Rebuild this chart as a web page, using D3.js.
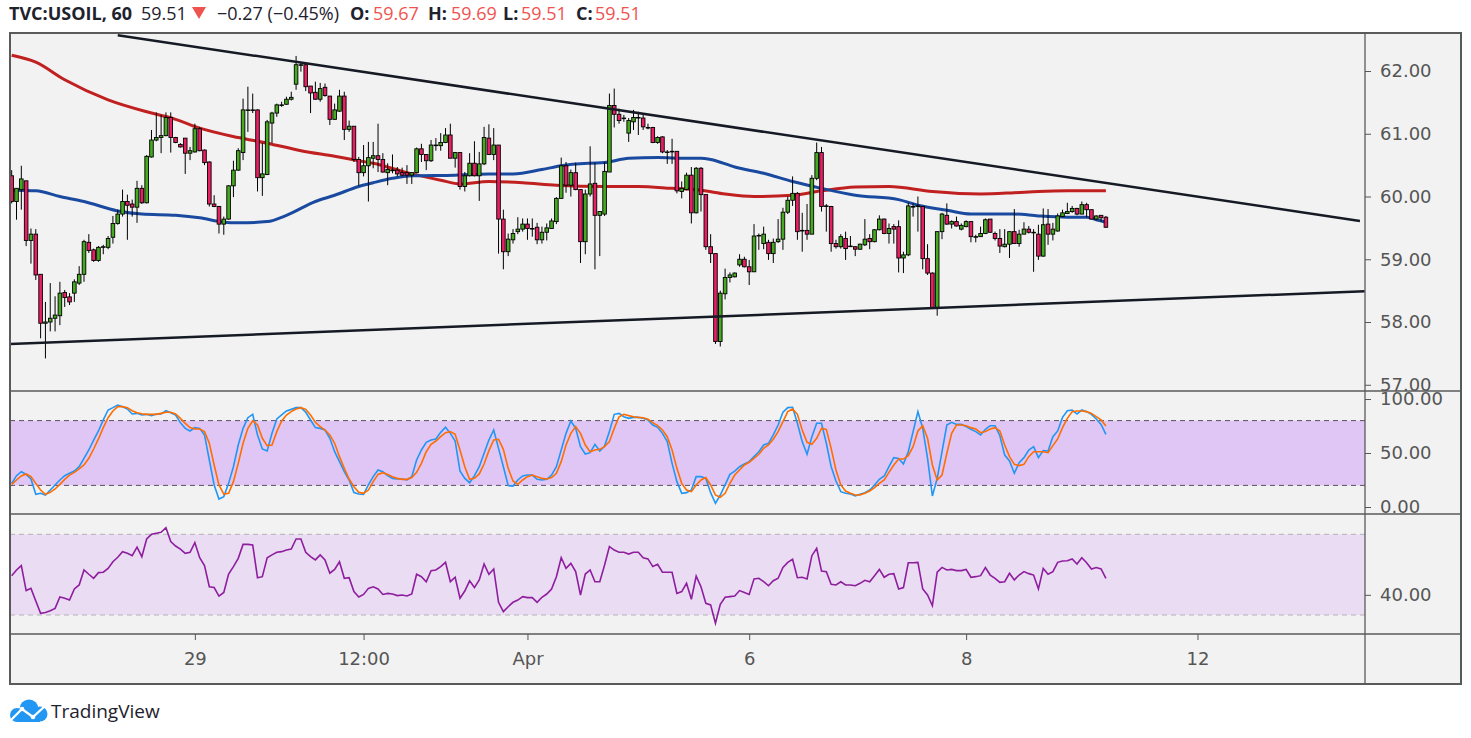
<!DOCTYPE html>
<html>
<head>
<meta charset="utf-8">
<script src="https://cdn.jsdelivr.net/npm/d3@7"></script>
<style>
  html, body { margin: 0; padding: 0; background: #ffffff; }
  svg { display: block; }
</style>
</head>
<body>
<svg id="canvas" width="1471" height="738"></svg>
<script>
//usoil hourly chart: candles, two moving averages, triangle lines, stochastic and rsi panes

//candles, one value per hourly bar
var opens = [
  60.33,59.92,60.11,60.25,59.30,59.40,58.76,57.98,58.00,58.06,
  58.10,58.47,58.40,58.46,58.62,58.76,59.27,59.15,58.98,59.19,
  59.19,59.35,59.57,59.72,59.92,59.88,59.83,60.13,59.90,60.63,
  60.90,60.94,60.97,61.26,60.94,60.83,60.93,60.69,60.71,61.08,
  60.74,60.55,59.88,59.84,59.56,59.64,60.17,60.42,60.70,61.38,
  61.38,61.38,60.30,60.35,61.17,61.33,61.46,61.47,61.55,61.79,
  62.10,62.10,61.76,61.66,61.55,61.74,61.60,61.23,61.36,61.60,
  61.07,61.12,60.59,60.38,60.49,60.61,60.65,60.59,60.38,60.42,
  60.42,60.38,60.38,60.34,60.38,60.76,60.67,60.57,60.82,60.81,
  60.86,60.98,60.61,60.70,60.16,60.33,60.53,60.33,60.52,60.93,
  60.67,60.82,59.64,59.12,59.31,59.44,59.48,59.56,59.49,59.51,
  59.31,59.43,59.49,59.60,59.97,60.49,60.18,60.38,60.11,59.28,
  60.04,60.21,59.70,59.72,60.39,61.45,61.31,61.25,61.01,61.19,
  61.26,61.25,61.10,61.10,60.86,60.95,60.71,60.72,60.72,60.08,
  60.11,60.34,59.74,60.45,60.03,59.20,59.09,57.69,58.45,58.71,
  58.72,58.91,59.00,58.88,58.80,59.38,59.25,59.27,59.09,59.28,
  59.32,59.75,59.94,60.05,59.46,59.46,59.40,60.29,60.70,59.85,
  59.84,59.25,59.20,59.33,59.21,59.20,59.16,59.23,59.33,59.28,
  59.47,59.64,59.41,59.52,59.52,59.02,59.07,59.84,59.85,59.84,
  59.01,58.78,58.23,59.44,59.70,59.56,59.60,59.48,59.52,59.60,
  59.36,59.36,59.41,59.64,59.41,59.33,59.20,59.24,59.44,59.25,
  59.40,59.48,59.43,59.40,59.05,59.56,59.40,59.45,59.68,59.73,
  59.76,59.81,59.72,59.87,59.79,59.64,59.70,59.67];

var highs = [
  60.42,60.13,60.49,60.25,59.49,59.48,58.76,58.32,58.62,58.41,
  58.64,58.51,58.46,58.68,58.89,59.31,59.40,59.17,59.21,59.23,
  59.37,59.69,59.79,60.11,60.03,59.95,60.25,60.18,60.66,61.06,
  61.34,61.30,61.34,61.34,60.95,60.85,60.93,60.79,61.16,61.11,
  60.75,60.56,60.02,59.85,59.68,60.18,60.57,60.77,61.56,61.75,
  61.64,61.39,60.85,61.22,61.35,61.48,61.51,61.59,61.67,62.24,
  62.13,62.12,61.76,61.83,61.81,61.80,61.60,61.48,61.70,61.67,
  61.21,61.12,60.63,60.82,60.87,60.87,61.16,60.69,60.53,60.67,
  60.47,60.46,60.50,60.38,60.78,60.84,60.67,60.90,60.93,61.01,
  61.09,61.16,60.71,60.70,60.39,60.69,60.88,60.71,61.11,61.15,
  61.09,60.82,59.79,59.41,59.48,59.67,59.65,59.65,59.65,59.58,
  59.52,59.57,59.65,59.99,60.62,60.55,60.43,60.54,60.11,60.11,
  60.80,60.54,59.76,60.55,61.64,61.72,61.40,61.30,61.25,61.38,
  61.35,61.30,61.16,61.11,60.96,60.96,60.74,60.92,60.72,60.24,
  60.38,60.47,60.47,60.47,60.03,59.40,59.09,58.50,58.85,58.79,
  58.79,59.08,59.04,58.99,59.56,59.41,59.52,59.31,59.33,59.64,
  59.82,60.00,60.32,60.07,59.74,59.88,60.34,60.86,60.79,59.88,
  59.85,59.31,59.40,59.44,59.37,59.21,59.25,59.64,59.40,59.48,
  59.70,59.65,59.57,59.56,59.62,59.12,59.90,59.89,60.00,59.85,
  59.24,58.79,59.44,59.74,59.89,59.62,59.68,59.57,59.62,59.61,
  59.39,59.52,59.65,59.64,59.44,59.48,59.48,59.44,59.80,59.47,
  59.59,59.53,59.48,59.55,59.81,59.80,59.58,59.73,59.79,59.90,
  59.85,59.82,59.92,59.90,59.79,59.70,59.70,59.69];

var lows = [
  59.89,59.63,59.79,59.21,58.93,58.67,57.74,57.42,57.85,57.85,
  57.95,58.24,58.27,58.32,58.59,58.64,59.10,58.96,58.96,59.08,
  59.16,59.25,59.55,59.68,59.31,59.68,59.58,59.88,59.89,60.62,
  60.88,60.69,60.96,60.70,60.85,60.78,60.36,60.58,60.70,60.72,
  60.50,59.84,59.83,59.41,59.39,59.63,59.99,60.41,60.58,61.03,
  61.33,60.08,60.01,60.34,60.85,61.27,61.43,61.46,61.53,61.70,
  61.99,61.68,61.33,61.54,61.51,61.59,61.14,61.22,61.35,60.90,
  61.03,60.55,60.17,60.32,59.92,60.45,60.39,60.38,60.18,60.37,
  60.32,60.32,60.20,60.20,60.37,60.55,60.42,60.55,60.73,60.73,
  60.85,60.61,60.46,60.11,60.08,60.32,60.32,59.93,60.50,60.66,
  60.58,59.09,58.84,59.05,59.25,59.40,59.44,59.31,59.36,59.24,
  59.25,59.30,59.49,59.56,59.97,60.06,60.00,60.10,58.94,59.08,
  60.00,58.84,59.05,59.69,60.39,61.10,61.16,61.19,60.87,61.06,
  60.98,61.06,61.07,60.85,60.84,60.69,60.52,60.52,60.05,59.97,
  60.10,59.57,59.73,59.76,59.15,58.94,57.65,57.61,58.36,58.63,
  58.71,58.88,58.87,58.59,58.80,59.15,59.16,58.99,58.94,59.26,
  59.15,59.72,59.85,59.31,59.12,59.31,59.40,60.26,59.76,59.44,
  59.12,59.17,59.17,58.99,59.20,59.05,59.15,59.21,59.16,59.27,
  59.46,59.40,59.25,59.25,58.79,58.78,59.05,59.68,59.44,58.84,
  58.75,58.22,58.10,59.32,59.55,59.49,59.52,59.46,59.51,59.27,
  59.27,59.36,59.40,59.42,59.30,59.10,59.19,59.02,59.25,59.20,
  59.40,59.41,58.80,58.99,59.04,59.23,59.30,59.44,59.67,59.72,
  59.74,59.70,59.72,59.67,59.64,59.62,59.60,59.50];

var closes = [
  59.92,60.13,60.28,59.30,59.40,58.75,57.98,58.00,58.06,58.11,
  58.46,58.39,58.32,58.64,58.76,59.28,59.14,58.98,59.19,59.20,
  59.33,59.57,59.72,59.92,59.86,59.83,60.13,59.90,60.64,60.90,
  60.94,60.97,61.26,60.94,60.86,60.79,60.69,60.73,61.08,60.73,
  60.54,59.88,59.84,59.56,59.64,60.17,60.42,60.73,61.38,61.38,
  61.38,60.30,60.36,61.19,61.33,61.46,61.46,61.55,61.58,62.10,
  62.10,61.75,61.65,61.55,61.72,61.61,61.23,61.38,61.60,61.07,
  61.12,60.59,60.38,60.49,60.62,60.65,60.59,60.39,60.43,60.42,
  60.36,60.34,60.34,60.38,60.76,60.67,60.57,60.82,60.82,60.86,
  60.98,60.61,60.70,60.16,60.33,60.53,60.33,60.52,60.94,60.67,
  60.82,59.64,59.12,59.32,59.41,59.48,59.56,59.49,59.49,59.31,
  59.43,59.50,59.61,59.97,60.49,60.18,60.38,60.11,59.28,60.04,
  60.20,59.70,59.76,60.40,61.45,61.31,61.21,61.25,61.21,61.26,
  61.26,61.11,61.10,60.86,60.94,60.71,60.71,60.72,60.09,60.13,
  60.34,59.74,60.45,60.03,59.20,59.09,57.69,58.46,58.71,58.75,
  58.78,59.00,58.88,58.80,59.37,59.38,59.40,59.09,59.27,59.32,
  59.75,59.94,60.05,59.44,59.46,59.40,60.29,60.70,59.84,59.85,
  59.25,59.20,59.36,59.17,59.21,59.16,59.24,59.32,59.28,59.47,
  59.64,59.41,59.49,59.48,59.02,59.07,59.85,59.84,59.85,59.01,
  58.78,58.23,59.44,59.72,59.56,59.60,59.53,59.54,59.60,59.36,
  59.36,59.41,59.63,59.43,59.33,59.21,59.24,59.44,59.25,59.40,
  59.48,59.43,59.43,59.05,59.55,59.40,59.48,59.69,59.74,59.76,
  59.81,59.72,59.87,59.79,59.64,59.69,59.66,59.51];

//moving averages as [bar, price]
var maSlow = [[0,62.25],[5,62.14],[11,61.86],[20,61.54],[29,61.33],[34,61.23],[39,61.09],
  [47,60.94],[53,60.85],[60,60.73],[67,60.64],[72,60.57],[75,60.53],[82,60.38],[89,60.26],
  [93,60.20],[99,60.24],[106,60.22],[113,60.18],[123,60.16],[130,60.16],[137,60.13],
  [143,60.10],[148,60.04],[154,60.00],[162,60.02],[168,60.09],[175,60.15],[182,60.16],
  [191,60.08],[201,60.04],[208,60.06],[213,60.08],[219,60.09],[227,60.09]];

var maFast = [[0,60.10],[5,60.09],[10,60.00],[15,59.92],[22,59.77],[27,59.72],[34,59.70],
  [39,59.66],[44,59.59],[47,59.58],[53,59.60],[57,59.70],[63,59.92],[67,60.02],[72,60.16],
  [75,60.22],[79,60.29],[83,60.33],[92,60.34],[99,60.36],[104,60.36],[110,60.43],[114,60.49],
  [120,60.53],[123,60.54],[128,60.61],[134,60.62],[140,60.61],[143,60.61],[145,60.59],
  [150,60.47],[156,60.37],[162,60.24],[168,60.13],[175,60.02],[184,59.95],[188,59.86],
  [194,59.78],[199,59.72],[208,59.72],[213,59.69],[219,59.67],[223,59.67],[225,59.63],[227,59.59]];

//hand drawn triangle lines, [bar, price] at each end
var upperLine = [[22, 62.57], [279.7, 59.61]];
var lowerLine = [[-0.35, 57.65], [280.7, 58.49]];

//stochastic %K and %D
var stochK = [
  21.9,29.0,32.7,30.2,25.9,11.7,12.7,11.1,15.7,20.4,
  25.0,29.0,31.2,33.3,37.3,45.1,52.8,62.0,70.4,80.6,
  89.8,92.0,94.4,92.9,90.7,86.1,86.7,85.2,85.8,84.6,
  86.1,86.1,89.2,87.3,85.2,78.1,72.8,70.4,73.5,72.8,
  66.7,43.5,20.4,7.4,9.6,21.9,37.3,57.4,72.8,82.7,
  85.8,66.7,53.7,51.9,68.2,81.5,85.2,88.9,90.4,92.0,
  92.0,87.7,80.6,73.5,72.8,71.3,63.6,51.2,42.0,32.7,
  25.0,13.3,12.0,11.7,20.4,28.1,34.3,32.7,29.0,26.5,
  25.9,25.9,25.0,28.1,43.5,52.8,59.9,62.0,63.0,69.1,
  73.8,68.2,61.1,33.3,26.5,22.5,29.0,37.3,49.7,62.0,
  71.3,54.3,37.3,19.8,19.4,25.0,28.7,29.6,29.6,25.6,
  25.0,25.6,29.6,37.3,52.8,68.2,79.6,72.8,55.9,49.1,
  50.3,58.0,51.9,56.5,69.8,85.8,86.7,83.6,82.1,83.0,
  83.0,82.1,80.6,75.9,73.8,68.2,60.5,40.4,23.5,12.7,
  13.3,15.7,28.1,28.1,26.5,13.3,3.4,11.1,20.4,30.2,
  33.3,37.3,39.8,42.0,46.6,51.2,57.4,59.0,66.7,75.9,
  87.7,92.0,92.3,77.5,60.5,48.8,65.1,77.5,77.5,59.0,
  37.3,24.1,14.2,12.7,12.0,10.2,11.7,13.3,15.7,20.4,
  25.6,28.7,37.3,45.7,45.0,39.8,51.2,69.8,88.3,72.8,
  45.1,10.2,26.5,51.2,75.9,78.4,76.5,76.5,74.4,71.9,
  69.8,66.7,71.9,75.3,75.3,66.0,48.1,42.6,31.2,41.0,
  45.7,52.8,55.9,45.7,52.2,51.9,65.1,70.4,83.0,89.2,
  89.8,86.1,89.8,88.3,85.8,81.5,76.5,67.3];

var stochD = [
  21.0,25.0,28.7,30.6,28.1,21.9,15.7,11.7,13.6,16.7,
  21.0,25.6,29.6,32.1,35.2,38.9,45.1,53.7,63.0,73.5,
  82.7,88.9,92.9,92.9,92.0,89.2,87.3,86.4,85.8,85.8,
  85.8,86.7,87.7,87.7,86.1,82.1,77.5,73.5,72.2,72.2,
  69.8,59.0,38.9,20.4,12.0,12.7,23.5,40.4,59.0,72.8,
  79.9,75.9,63.6,56.8,57.4,69.8,79.6,85.2,88.3,90.7,
  92.0,90.4,85.2,78.4,74.4,71.3,66.7,59.0,46.6,35.8,
  25.9,18.8,13.6,12.7,15.7,23.5,30.2,31.8,30.2,28.1,
  26.5,25.6,25.6,27.2,32.1,40.4,51.2,58.0,61.1,65.1,
  68.8,69.8,67.3,52.8,37.3,25.6,26.5,30.6,39.8,52.2,
  62.0,62.7,53.4,35.8,24.1,21.0,25.0,28.1,29.6,28.1,
  26.5,25.9,27.2,31.2,42.0,57.4,68.2,74.4,68.2,57.4,
  51.2,52.8,53.4,55.9,60.5,72.8,83.6,85.8,84.6,83.6,
  83.0,82.7,81.2,78.1,75.3,71.3,65.1,52.8,35.8,21.9,
  15.7,14.2,20.4,25.0,27.2,20.4,11.1,9.0,12.7,21.9,
  29.6,34.3,38.9,41.4,45.1,48.8,54.3,57.4,62.7,69.8,
  79.0,88.3,90.7,85.8,71.3,59.9,58.0,63.6,72.8,71.9,
  54.3,34.3,20.4,14.8,12.7,11.1,11.1,12.7,14.8,17.9,
  21.9,25.0,32.1,38.9,44.4,44.4,47.5,55.9,70.4,75.3,
  63.6,38.9,25.0,29.6,49.7,68.2,75.9,75.9,75.3,73.5,
  72.2,68.8,69.8,72.2,73.5,70.4,57.4,46.6,39.5,38.3,
  39.5,46.6,51.2,51.2,51.2,50.3,56.8,63.0,73.5,82.1,
  88.3,88.9,88.9,88.3,86.7,83.6,80.6,75.0];

//rsi
var rsi = [
  49.5,52.3,54.5,42.1,43.2,36.9,30.8,31.2,32.1,33.3,
  38.9,38.3,37.4,42.9,44.9,52.3,50.2,48.2,51.0,51.2,
  53.1,56.4,58.6,61.4,60.6,59.4,63.6,58.9,67.7,70.0,
  70.5,71.0,73.3,66.4,64.2,62.7,60.6,61.1,65.9,58.4,
  54.5,44.0,43.6,39.4,41.2,50.3,54.0,58.1,65.0,65.0,
  64.7,48.5,49.0,58.4,59.8,61.1,61.4,62.2,62.7,67.7,
  67.7,61.1,58.9,57.3,59.8,57.3,50.7,52.6,56.4,48.2,
  48.5,41.6,38.9,40.2,43.2,44.0,42.9,40.2,40.7,40.4,
  39.6,39.9,39.4,40.4,50.2,49.0,46.5,52.0,52.3,54.0,
  56.1,46.5,48.7,38.3,41.9,46.9,43.6,47.4,55.3,50.2,
  52.8,36.3,31.7,34.1,36.3,37.4,39.1,38.6,38.6,36.3,
  38.8,40.4,42.9,49.0,58.4,53.1,55.6,51.5,39.9,50.3,
  52.3,46.5,46.5,54.8,63.9,62.2,61.1,61.1,60.2,61.1,
  61.1,58.4,57.8,54.0,55.1,51.2,51.2,51.2,40.7,41.6,
  45.7,37.8,49.3,44.0,35.8,35.0,25.9,35.3,38.8,39.1,
  39.4,42.1,41.2,40.2,47.9,48.2,46.5,44.5,47.0,48.2,
  53.6,56.1,57.6,48.5,48.7,47.9,59.4,63.1,51.8,51.5,
  45.2,44.9,46.5,44.9,44.9,44.5,45.7,47.2,46.5,49.5,
  52.6,48.7,50.2,50.5,42.9,43.6,55.9,55.9,56.1,42.9,
  39.9,34.6,51.2,53.6,52.3,52.6,52.0,52.0,52.6,48.7,
  49.0,49.5,53.5,49.8,48.2,46.2,46.5,50.7,47.4,49.8,
  51.5,50.5,49.8,42.9,53.1,50.2,51.5,56.1,56.8,56.9,
  57.8,55.3,58.4,55.9,52.8,53.5,52.8,48.2];

//ticks and labels
var priceTicks = [57, 58, 59, 60, 61, 62];
var stochTicks = [0, 50, 100];
var stochBands = [20, 80];
var rsiTicks = [40];
var rsiBands = [30, 70];
var timeTickBars = [38, 73, 107, 153, 198, 246];
var timeTickLabels = ["29", "12:00", "Apr", "6", "8", "12"];

//header values
var symbolText = "TVC:USOIL, 60";
var lastPrice = 59.51;
var changeText = "\u22120.27 (\u22120.45%)";
var ohlcLabels = ["O:", "H:", "L:", "C:"];
var ohlcValues = [59.67, 59.69, 59.51, 59.51];

//colours
var upColor = "#45aa1f";
var downColor = "#e91e63";
var slowColor = "#c0201f";
var fastColor = "#1a4aa0";
var kColor = "#2196f3";
var dColor = "#ff6d00";
var rsiColor = "#8e1e9e";
var frameColor = "#5a5a5a";
var labelColor = "#555555";

			//get svg object from page
			var svg = d3.select("#canvas");

//pane geometry (paneTop, not top: window.top is read only)
var left = 10, right = 1365, outerRight = 1461;
var paneTop = 33, mainBottom = 391, stochBottom = 514, rsiBottom = 634, frameBottom = 684;

var x = d3.scaleLinear().domain([-0.35, 280.75]).range([left, right]);
var yPrice = d3.scaleLinear().domain([57, 62]).range([384.75, 71]);
var yStoch = d3.scaleLinear().domain([0, 100]).range([507, 399]);
var yRsi = d3.scaleLinear().domain([30, 70]).range([615, 534.3]);

//chart background
svg.append("rect")
  .attr("x", left).attr("y", paneTop)
  .attr("width", outerRight - left).attr("height", frameBottom - paneTop)
  .style("fill", "#f2f2f2");

//clip paths, one per pane and one per axis strip
var defs = svg.append("defs");
function addClip(id, x0, y0, x1, y1) {
  defs.append("clipPath").attr("id", id)
    .append("rect").attr("x", x0).attr("y", y0)
    .attr("width", x1 - x0).attr("height", y1 - y0);
}
addClip("clipMain", left, paneTop, right, mainBottom);
addClip("clipStoch", left, mainBottom, right, stochBottom);
addClip("clipRsi", left, stochBottom, right, rsiBottom);
addClip("clipMainAxis", right, paneTop, outerRight, mainBottom);
addClip("clipStochAxis", right, mainBottom, outerRight, stochBottom);
addClip("clipRsiAxis", right, stochBottom, outerRight, rsiBottom);

//main pane
var mainPane = svg.append("g").attr("clip-path", "url(#clipMain)");

var maLine = d3.line()
  .x(function(d) { return x(d[0]); })
  .y(function(d) { return yPrice(d[1]); })
  .curve(d3.curveMonotoneX);

mainPane.append("path")
  .attr("d", maLine(maSlow))
  .style("fill", "none").style("stroke", slowColor).style("stroke-width", 3);

mainPane.append("path")
  .attr("d", maLine(maFast))
  .style("fill", "none").style("stroke", fastColor).style("stroke-width", 3);

var bars = d3.range(opens.length);

var candles = mainPane.selectAll("g.candle")
  .data(bars)
  .enter().append("g")
  .attr("class", "candle");

candles.append("line")
  .attr("x1", function(i) { return x(i); })
  .attr("x2", function(i) { return x(i); })
  .attr("y1", function(i) { return yPrice(highs[i]); })
  .attr("y2", function(i) { return yPrice(lows[i]); })
  .style("stroke", "#000").style("stroke-width", 1);

candles.append("rect")
  .attr("x", function(i) { return x(i) - 1.8; })
  .attr("width", 3.6)
  .attr("y", function(i) { return yPrice(Math.max(opens[i], closes[i])); })
  .attr("height", function(i) { return Math.max(0.6, Math.abs(yPrice(opens[i]) - yPrice(closes[i]))); })
  .style("fill", function(i) { return closes[i] >= opens[i] ? upColor : downColor; })
  .style("stroke", "#000").style("stroke-width", 0.9);

var trendLine = d3.line()
  .x(function(d) { return x(d[0]); })
  .y(function(d) { return yPrice(d[1]); });

[upperLine, lowerLine].forEach(function(pts) {
  mainPane.append("path")
    .attr("d", trendLine(pts))
    .style("fill", "none").style("stroke", "#151a24").style("stroke-width", 2.5);
});

//stochastic pane
var stochPane = svg.append("g").attr("clip-path", "url(#clipStoch)");

stochPane.append("rect")
  .attr("x", left).attr("width", right - left)
  .attr("y", yStoch(stochBands[1]))
  .attr("height", yStoch(stochBands[0]) - yStoch(stochBands[1]))
  .style("fill", "#e0c6f5");

stochBands.forEach(function(b) {
  stochPane.append("line")
    .attr("x1", left).attr("x2", right)
    .attr("y1", yStoch(b)).attr("y2", yStoch(b))
    .style("stroke", "#5a5060").style("stroke-width", 1).style("stroke-dasharray", "5,4");
});

var stochLine = d3.line()
  .x(function(d, i) { return x(i); })
  .y(function(d) { return yStoch(d); });

stochPane.append("path")
  .attr("d", stochLine(stochK))
  .style("fill", "none").style("stroke", kColor).style("stroke-width", 1.6);

stochPane.append("path")
  .attr("d", stochLine(stochD))
  .style("fill", "none").style("stroke", dColor).style("stroke-width", 1.6);

//rsi pane
var rsiPane = svg.append("g").attr("clip-path", "url(#clipRsi)");

rsiPane.append("rect")
  .attr("x", left).attr("width", right - left)
  .attr("y", yRsi(rsiBands[1]))
  .attr("height", yRsi(rsiBands[0]) - yRsi(rsiBands[1]))
  .style("fill", "#e9dcf3");

rsiBands.forEach(function(b) {
  rsiPane.append("line")
    .attr("x1", left).attr("x2", right)
    .attr("y1", yRsi(b)).attr("y2", yRsi(b))
    .style("stroke", "#b4b0b8").style("stroke-width", 1).style("stroke-dasharray", "5,4");
});

var rsiLine = d3.line()
  .x(function(d, i) { return x(i); })
  .y(function(d) { return yRsi(d); });

rsiPane.append("path")
  .attr("d", rsiLine(rsi))
  .style("fill", "none").style("stroke", rsiColor).style("stroke-width", 1.6);

//value axes on the right
function styleAxis(g) {
  g.select(".domain").remove();
  g.selectAll(".tick line").style("stroke", labelColor);
  g.selectAll(".tick text")
    .style("font-family", "'DejaVu Sans', sans-serif")
    .style("font-size", "18px")
    .style("fill", labelColor);
}

//clip sits on an outer group so it stays in page coordinates
function valueAxis(clipId, scale, ticks) {
  svg.append("g")
    .attr("clip-path", "url(#" + clipId + ")")
    .append("g")
    .attr("transform", "translate(" + right + ",0)")
    .call(d3.axisRight(scale).tickValues(ticks).tickSize(6).tickPadding(9).tickFormat(d3.format(".2f")))
    .call(styleAxis);
}
valueAxis("clipMainAxis", yPrice, priceTicks);
valueAxis("clipStochAxis", yStoch, stochTicks);
valueAxis("clipRsiAxis", yRsi, rsiTicks);

//time axis
svg.append("g")
  .attr("transform", "translate(0," + rsiBottom + ")")
  .call(d3.axisBottom(x).tickValues(timeTickBars).tickSize(6).tickPadding(12)
    .tickFormat(function(d, i) { return timeTickLabels[i]; }))
  .call(styleAxis);

//frame and pane separators
[mainBottom, stochBottom, rsiBottom].forEach(function(yy) {
  svg.append("line")
    .attr("x1", left).attr("x2", outerRight)
    .attr("y1", yy).attr("y2", yy)
    .style("stroke", frameColor).style("stroke-width", 1.3);
});

svg.append("line")
  .attr("x1", right).attr("x2", right)
  .attr("y1", paneTop).attr("y2", frameBottom)
  .style("stroke", frameColor).style("stroke-width", 1.3);

svg.append("rect")
  .attr("x", left).attr("y", paneTop)
  .attr("width", outerRight - left).attr("height", frameBottom - paneTop)
  .style("fill", "none").style("stroke", frameColor).style("stroke-width", 2);

//header line
var headFont = "'Open Sans', sans-serif";
function headText(str, xx, bold, color) {
  svg.append("text")
    .attr("x", xx).attr("y", 20)
    .style("font-family", headFont)
    .style("font-size", "18px")
    .style("font-weight", bold ? "bold" : "normal")
    .style("fill", color)
    .text(str);
}
headText(symbolText, 9, true, "#1e222d");
headText(lastPrice.toFixed(2), 141, false, "#1e222d");
svg.append("path")
  .attr("d", "M192,7 L206,7 L199,19 Z")
  .style("fill", "#ef5350");
headText(changeText, 217, false, "#1e222d");
var ohlcX = [350, 428, 503, 576];
var valueX = [373, 451, 521, 595];
ohlcLabels.forEach(function(lab, i) {
  headText(lab, ohlcX[i], true, "#1e222d");
  headText(ohlcValues[i].toFixed(2), valueX[i], false, "#ef5350");
});

//tradingview mark
var logo = svg.append("g");
[[17, 715, 7], [29, 709, 9.5], [40, 714, 7.5]].forEach(function(c) {
  logo.append("circle").attr("cx", c[0]).attr("cy", c[1]).attr("r", c[2]).style("fill", "#2196f3");
});
logo.append("rect").attr("x", 17).attr("y", 713).attr("width", 23).attr("height", 9).style("fill", "#2196f3");
logo.append("path")
  .attr("d", "M11,720 L22,709 L33,717 L45,706")
  .style("fill", "none").style("stroke", "#ffffff").style("stroke-width", 2.2);
[[22, 709], [33, 717]].forEach(function(p) {
  logo.append("circle").attr("cx", p[0]).attr("cy", p[1]).attr("r", 2.3).style("fill", "#ffffff");
});
svg.append("text")
  .attr("x", 51).attr("y", 718)
  .style("font-family", headFont)
  .style("font-size", "19px")
  .style("fill", "#1e222d")
  .text("TradingView");
</script>
</body>
</html>
